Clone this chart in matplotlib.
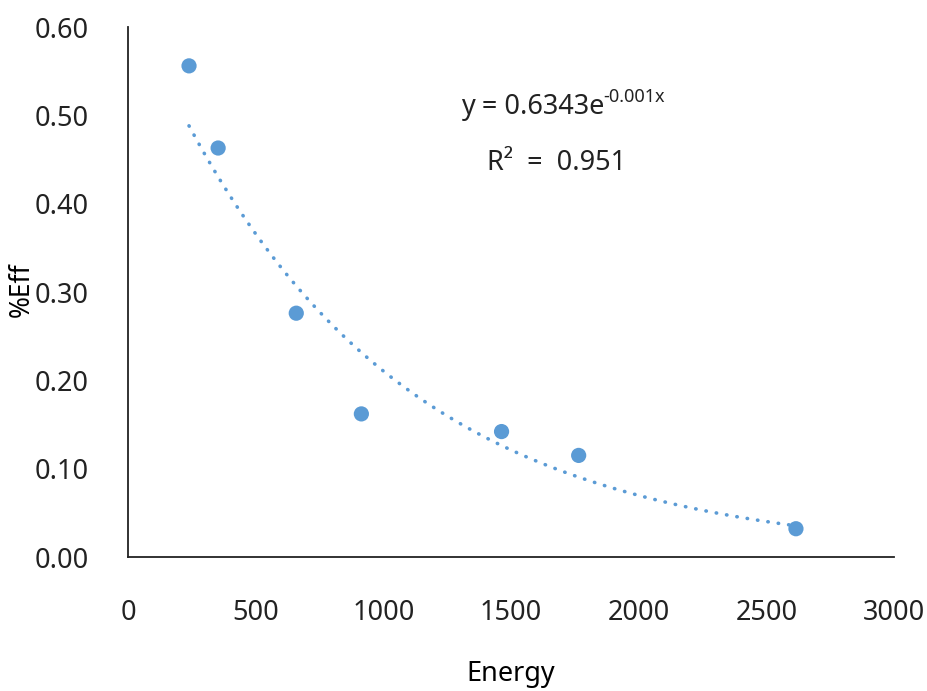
import numpy as np
import matplotlib
matplotlib.use("Agg")
import matplotlib.pyplot as plt

energy = [239, 353, 659, 914, 1463, 1765, 2616]
eff = [0.556, 0.463, 0.276, 0.162, 0.142, 0.115, 0.032]
x_ticks = [0, 500, 1000, 1500, 2000, 2500, 3000]
y_ticks = [0.00, 0.10, 0.20, 0.30, 0.40, 0.50, 0.60]

color = "#5B9BD5"
plt.rcParams['font.family'] = ['Noto Sans', 'DejaVu Sans']

fig = plt.figure(figsize=(9.28, 6.91), dpi=100)
ax = fig.add_axes([128/928, 1-557/691, (894-128)/928, (557-27)/691])

# exponential trendline (least squares on log y, like Excel)
b, a = np.polyfit(np.array(energy), np.log(np.array(eff)), 1)
xs = np.linspace(min(energy), max(energy), 300)
ax.plot(xs, np.exp(a) * np.exp(b * xs), color=color, lw=2.6,
        linestyle=(0, (0.1, 2.8)), dash_capstyle='round', zorder=2)

ax.scatter(energy, eff, s=120, color=color, edgecolors='none', zorder=3)

ax.set_xlim(0, 3000)
ax.set_ylim(0, 0.6)
ax.set_xticks(x_ticks)
ax.set_xticklabels([str(v) for v in x_ticks])
ax.set_yticks(y_ticks)
ax.set_yticklabels([f"{v:.2f}" for v in y_ticks])
ax.tick_params(axis='both', length=0, labelsize=19.5, colors='#222222')
ax.tick_params(axis='x', pad=30)
ax.tick_params(axis='y', pad=28)

for s in ['top', 'right']:
    ax.spines[s].set_visible(False)
for s in ['left', 'bottom']:
    ax.spines[s].set_color('#222222')
    ax.spines[s].set_linewidth(1.3)

fig.text(511/928, 1-674/691, "Energy", ha='center', va='center', fontsize=19.5,
         fontweight='semibold', color='black')
fig.text(22/928, 1-290/691, "%Eff", ha='center', va='center', fontsize=19,
         fontweight='semibold', rotation=90, color='black')

def px2data(px, py):
    return (px - 128) / 766 * 3000, 0.6 - (py - 27) / 530 * 0.6

ax.text(*px2data(604, 107), "y = 0.6343e", ha='right', va='center',
        fontsize=19.5, color='#222222')
ax.text(*px2data(603, 97), "-0.001x", ha='left', va='center',
        fontsize=13, color='#222222')
ax.text(*px2data(557, 163), "R²  =  0.951", ha='center', va='center',
        fontsize=19.5, color='#222222')

fig.savefig("out.png", dpi=100)
